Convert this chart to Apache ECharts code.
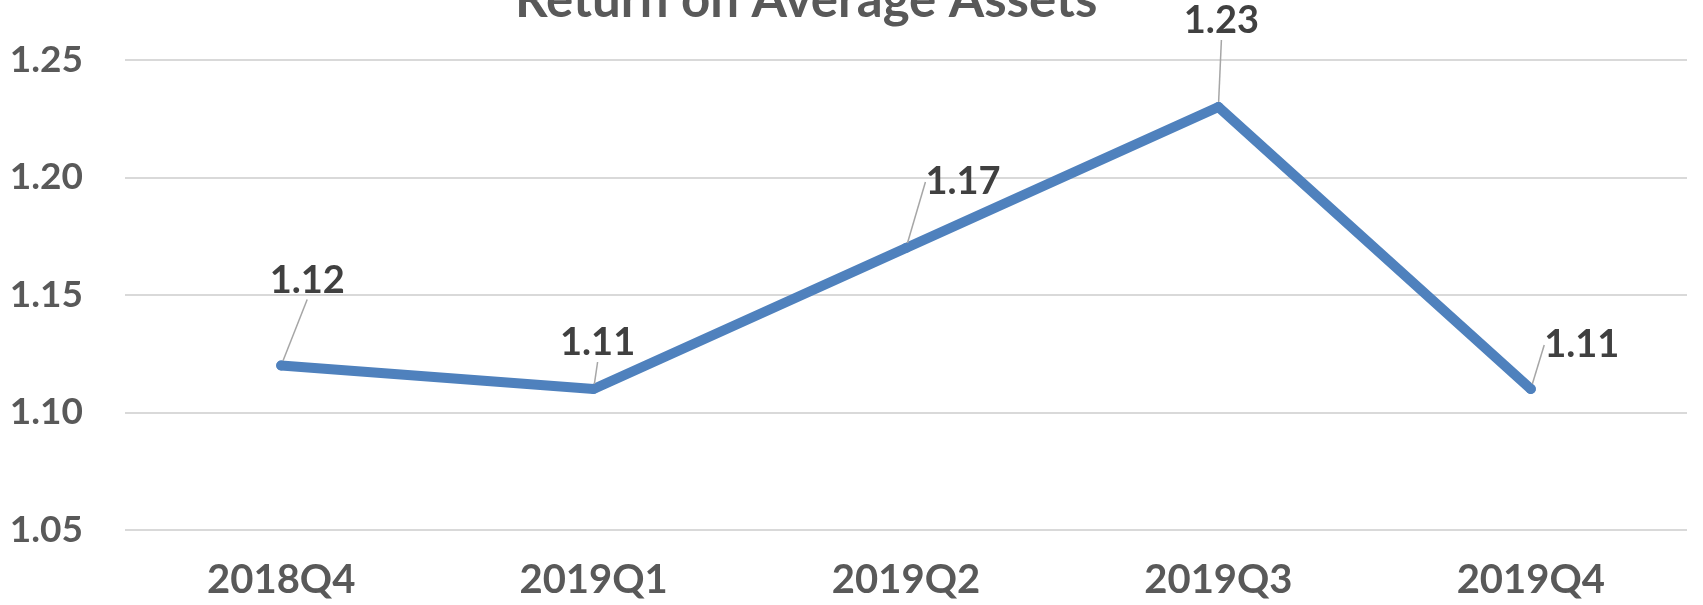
<!DOCTYPE html>
<html>
<head>
<meta charset="utf-8">
<script src="https://cdn.jsdelivr.net/npm/echarts@6/dist/echarts.min.js"></script>
<style>
html,body{margin:0;padding:0;background:#fff;}
#chart{width:1703px;height:605px;}
</style>
</head>
<body>
<div id="chart"></div>
<script>
const titleText = 'Return on Average Assets';
const categories = ['2018Q4', '2019Q1', '2019Q2', '2019Q3', '2019Q4'];
const values = [1.12, 1.11, 1.17, 1.23, 1.11];
const yMin = 1.05, yMax = 1.25, yStep = 0.05;

// label offsets (style only), relative to each point
const labelOffsets = [[26, -85], [4, -46], [57, -66], [3, -86], [51, -44]];

const FONT = 'Lato, "Open Sans", sans-serif';
const chart = echarts.init(document.getElementById('chart'));
chart.setOption({
  animation: false,
  backgroundColor: '#ffffff',
  title: {
    text: titleText,
    left: 510,
    top: -30,
    textStyle: { fontFamily: FONT, fontWeight: 'bold', fontSize: 51, color: '#595959' }
  },
  grid: { left: 125, right: 16, top: 60, bottom: 75, containLabel: false },
  xAxis: {
    type: 'category',
    data: categories,
    boundaryGap: true,
    axisLine: { show: false },
    axisTick: { show: false },
    axisLabel: { margin: 30, fontFamily: FONT, fontWeight: 'bold', fontSize: 40, color: '#595959' }
  },
  yAxis: {
    type: 'value',
    min: yMin, max: yMax, interval: yStep,
    axisLine: { show: false },
    axisTick: { show: false },
    splitLine: { show: true, lineStyle: { color: '#d9d9d9', width: 2 } },
    axisLabel: {
      margin: 42, fontFamily: FONT, fontWeight: 'bold', fontSize: 37, color: '#595959',
      formatter: v => v.toFixed(2)
    }
  },
  series: [{
    type: 'line',
    data: values,
    symbol: 'circle',
    symbolSize: 10,
    showSymbol: true,
    itemStyle: { color: '#4f81bd' },
    lineStyle: { color: '#4f81bd', width: 10, cap: 'round', join: 'round' },
    label: {
      show: true,
      position: 'inside',
      padding: 12,
      fontFamily: FONT, fontWeight: 'bold', fontSize: 38, color: '#404040',
      formatter: p => p.value.toFixed(2)
    },
    labelLine: { show: true, lineStyle: { color: '#a6a6a6', width: 1.5 } },
    labelLayout: p => ({ dx: labelOffsets[p.dataIndex][0], dy: labelOffsets[p.dataIndex][1] })
  }]
});
</script>
</body>
</html>
